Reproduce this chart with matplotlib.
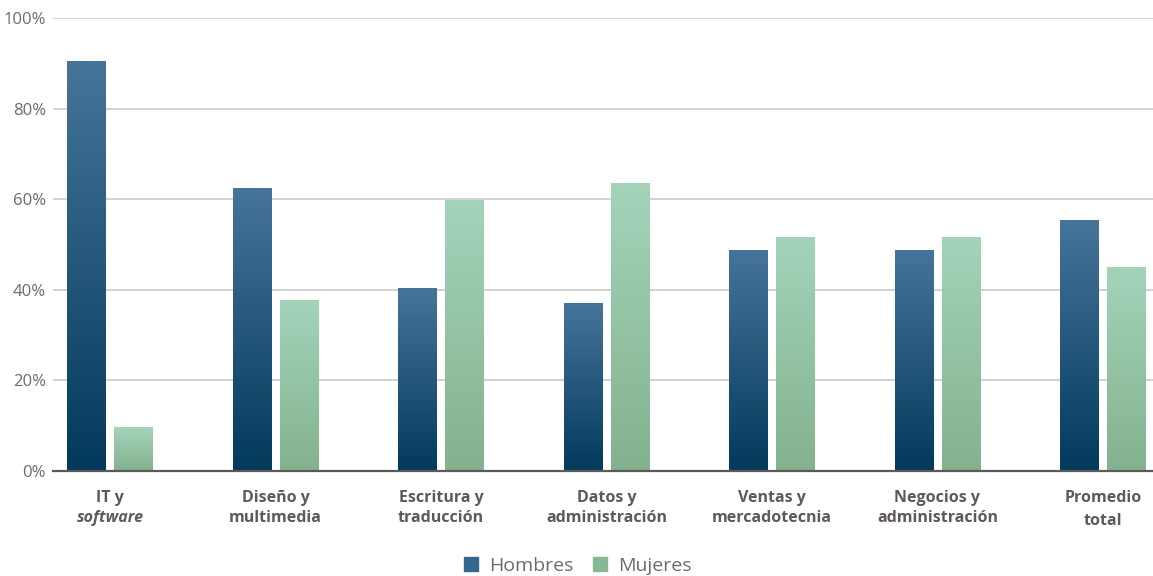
import matplotlib
matplotlib.use("Agg")
import matplotlib.pyplot as plt
import numpy as np
from matplotlib.colors import LinearSegmentedColormap
from matplotlib.patches import Rectangle
import matplotlib.transforms as mtransforms

categories = [["IT y", "software"], ["Diseño y", "multimedia"], ["Escritura y", "traducción"],
              ["Datos y", "administración"], ["Ventas y", "mercadotecnia"],
              ["Negocios y", "administración"], ["Promedio", "total"]]
hombres = [90.5, 62.5, 40.5, 37.0, 48.8, 48.8, 55.4]
mujeres = [9.7, 37.7, 59.8, 63.5, 51.6, 51.6, 45.0]
yticks = [0, 20, 40, 60, 80, 100]
ytick_labels = ["0%", "20%", "40%", "60%", "80%", "100%"]
series_names = ["Hombres", "Mujeres"]

plt.rcParams['font.family'] = ['Open Sans', 'DejaVu Sans']

W, H = 1153, 576
fig = plt.figure(figsize=(W / 100, H / 100), dpi=100)
ax = fig.add_axes([53 / W, 105 / H, 1100 / W, 453 / H])

x = np.arange(len(categories))
bw = 0.23
off = 0.142

cm_h = LinearSegmentedColormap.from_list("h", ["#023a5c", "#47749a"])
cm_m = LinearSegmentedColormap.from_list("m", ["#84b28f", "#a3d4ba"])
grad = np.linspace(0, 1, 256).reshape(-1, 1)

for vals, dx, cmap in [(hombres, -off, cm_h), (mujeres, off, cm_m)]:
    bars = ax.bar(x + dx, vals, width=bw, color="none", edgecolor="none", zorder=3)
    for b in bars:
        x0, w, h = b.get_x(), b.get_width(), b.get_height()
        im = ax.imshow(grad, extent=[x0, x0 + w, 0, h], origin="lower", cmap=cmap,
                       aspect="auto", zorder=3)
        im.set_clip_path(b)

ax.set_xlim((53 - 110) / 165.5, (1153 - 110) / 165.5)
ax.set_ylim(0, 100)
ax.set_yticks(yticks)
ax.set_yticklabels(ytick_labels, fontsize=12, color="#6e6a66")
ax.tick_params(axis="y", length=0, pad=5)
ax.tick_params(axis="x", length=0, labelbottom=False)
ax.grid(axis="y", color="#cfcfcf", linewidth=1.3, zorder=0)
for s in ["top", "right", "left"]:
    ax.spines[s].set_visible(False)
ax.spines["bottom"].set_color("#5a5a5a")
ax.spines["bottom"].set_linewidth(1.6)
ax.spines["bottom"].set_zorder(4)

trans = mtransforms.blended_transform_factory(ax.transData, fig.transFigure)
lab_color = "#5f5a55"
for i, (l1, l2) in enumerate(categories):
    ax.text(i, 1 - 498 / H, l1, transform=trans, ha="center", va="center",
            fontsize=11.5, fontweight="bold", color=lab_color)
    y2 = 521 if i == len(categories) - 1 else 518
    ax.text(i, 1 - y2 / H, l2, transform=trans, ha="center", va="center",
            fontsize=11.5, fontweight="bold", color=lab_color,
            fontstyle="italic" if i == 0 else "normal")

handles = [Rectangle((0, 0), 1, 1, color="#33678b"), Rectangle((0, 0), 1, 1, color="#86b893")]
fig.legend(handles, series_names, loc="center", bbox_to_anchor=(578 / W, 1 - 566 / H),
           ncol=2, frameon=False, fontsize=14, handlelength=0.7, handleheight=0.7,
           handletextpad=0.6, columnspacing=1.0, labelcolor="#6e6a66")

fig.savefig("out.png", dpi=100)
